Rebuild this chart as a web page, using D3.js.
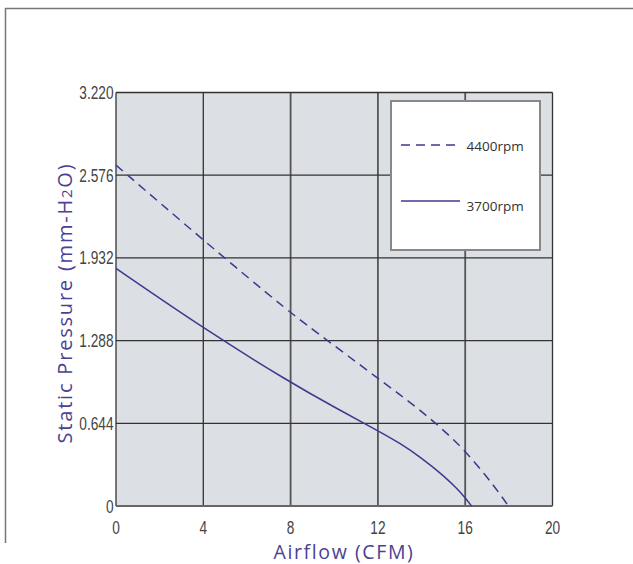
<!DOCTYPE html>
<html><head><meta charset="utf-8">
<script src="https://cdn.jsdelivr.net/npm/d3@7/dist/d3.min.js"></script>
<style>body{margin:0;background:#fff}svg{display:block}</style>
</head><body>
<svg id="c" width="633" height="564"></svg>
<script>
const xTicks = [0, 4, 8, 12, 16, 20];
const yTicks = [0, 0.644, 1.288, 1.932, 2.576, 3.220];
const yTickLabels = ["0", "0.644", "1.288", "1.932", "2.576", "3.220"];
const series = ["4400rpm", "3700rpm"];
const flow4400 = [0, 4, 8, 10, 12, 13, 14, 15, 16, 17, 17.5, 17.98];
const press4400 = [2.654, 2.07, 1.50, 1.25, 0.994, 0.868, 0.737, 0.592, 0.43, 0.225, 0.115, 0];
const flow3700 = [0, 4, 8, 10, 12, 13, 14, 15, 15.6, 16, 16.29];
const press3700 = [1.85, 1.383, 0.96, 0.77, 0.586, 0.49, 0.375, 0.238, 0.14, 0.065, 0];

const svg = d3.select("#c");
const L = 116, R = 552.5, T = 92.5, B = 506;
const x = d3.scaleLinear().domain([0, 20]).range([L, R]);
const y = d3.scaleLinear().domain([0, 3.22]).range([B, T]);
const ink = "#3d3a8e";

// outer frame
svg.append("path").attr("d", "M5.5,543 V8.5 H633").attr("fill", "none")
  .attr("stroke", "#777").attr("stroke-width", 1.5);

// plot background
svg.append("rect").attr("x", L).attr("y", T).attr("width", R - L).attr("height", B - T)
  .attr("fill", "#dcdfe4");

// grid
const g = svg.append("g");
g.selectAll("line.v").data(xTicks).join("line")
  .attr("x1", d => x(d)).attr("x2", d => x(d)).attr("y1", T).attr("y2", B)
  .attr("stroke", (d, i) => (i >= 2 && i <= 4) ? "#555" : "#333")
  .attr("stroke-width", (d, i) => (i >= 2 && i <= 4) ? 1.8 : 1.3);
g.selectAll("line.h").data(yTicks).join("line")
  .attr("y1", d => y(d)).attr("y2", d => y(d)).attr("x1", L).attr("x2", R)
  .attr("stroke", (d, i) => i === 0 ? "#666" : "#333")
  .attr("stroke-width", (d, i) => i === 0 ? 2 : 1.3);

// tick labels
const tickFont = "'Liberation Sans Narrow', 'Liberation Sans', sans-serif";
svg.selectAll("text.xt").data(xTicks).join("text")
  .attr("transform", d => `translate(${x(d)},534) scale(0.76,1)`)
  .attr("text-anchor", "middle").attr("font-family", tickFont).attr("font-size", 18)
  .attr("fill", "#444").text(d => d);
svg.selectAll("text.yt").data(yTicks).join("text")
  .attr("transform", d => `translate(113.5,${y(d) + 6.5}) scale(0.76,1)`)
  .attr("text-anchor", "end").attr("font-family", tickFont).attr("font-size", 18)
  .attr("fill", "#444").text((d, i) => yTickLabels[i]);

// curves
const line = d3.line().x(d => x(d[0])).y(d => y(d[1])).curve(d3.curveBasis);
svg.append("path").datum(d3.zip(flow4400, press4400)).attr("d", line)
  .attr("fill", "none").attr("stroke", ink).attr("stroke-width", 1.5).attr("stroke-dasharray", "9,6");
svg.append("path").datum(d3.zip(flow3700, press3700)).attr("d", line)
  .attr("fill", "none").attr("stroke", ink).attr("stroke-width", 1.5);

// legend
svg.append("rect").attr("x", 391).attr("y", 101).attr("width", 149).attr("height", 149)
  .attr("fill", "#fff").attr("stroke", "#888").attr("stroke-width", 2);
svg.append("line").attr("x1", 401).attr("x2", 456).attr("y1", 145).attr("y2", 145)
  .attr("stroke", ink).attr("stroke-width", 1.3).attr("stroke-dasharray", "9,6");
svg.append("line").attr("x1", 401).attr("x2", 460).attr("y1", 201).attr("y2", 201)
  .attr("stroke", ink).attr("stroke-width", 1.3);
svg.selectAll("text.lg").data(series).join("text")
  .attr("x", 466.5).attr("y", (d, i) => i === 0 ? 150.5 : 211)
  .attr("font-family", "'Open Sans', sans-serif").attr("font-size", 13.5)
  .attr("fill", "#333").text(d => d);

// axis titles
const titleColor = "#4b4191";
svg.append("text").attr("x", 344).attr("y", 559).attr("text-anchor", "middle")
  .attr("font-family", "'Open Sans', sans-serif").attr("font-size", 19.5)
  .attr("letter-spacing", 1.6).attr("fill", titleColor).text("Airflow (CFM)");
const yt = svg.append("text").attr("transform", "translate(72,303) rotate(-90)")
  .attr("text-anchor", "middle").attr("font-family", "'Open Sans', sans-serif")
  .attr("font-size", 20).attr("letter-spacing", 1.8).attr("fill", titleColor);
yt.append("tspan").text("Static Pressure (mm-H");
yt.append("tspan").attr("font-size", 15).text("2");
yt.append("tspan").text("O)");
</script>
</body></html>
